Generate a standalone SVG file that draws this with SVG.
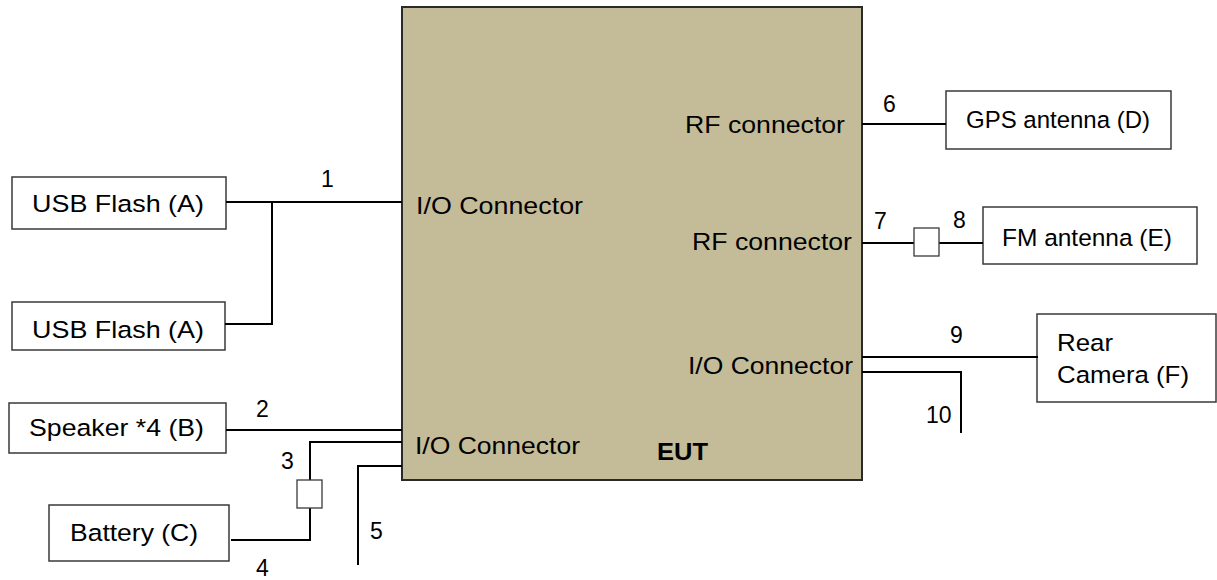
<svg xmlns="http://www.w3.org/2000/svg" width="1217" height="580" viewBox="0 0 1217 580">
<style>
.box{fill:#fff;stroke:#3a3a3a;stroke-width:1.5}
.eut{fill:#C4BC98;stroke:#2a2a2a;stroke-width:2}
.w{fill:none;stroke:#000;stroke-width:2}
.plug{fill:#fff;stroke:#3a3a3a;stroke-width:1.3}
text{font-family:"Liberation Sans",Arial,sans-serif;font-size:24.5px;fill:#000}
.n{font-size:23px}
.b{font-weight:bold}
</style>
<rect width="1217" height="580" fill="#fff"/>
<g id="eut">
<rect class="eut" x="402" y="7" width="460" height="473"/>
<text x="416" y="214" textLength="167" lengthAdjust="spacingAndGlyphs">I/O Connector</text>
<text x="685" y="133" textLength="160" lengthAdjust="spacingAndGlyphs">RF connector</text>
<text x="692" y="250" textLength="160" lengthAdjust="spacingAndGlyphs">RF connector</text>
<text x="688" y="374" textLength="165" lengthAdjust="spacingAndGlyphs">I/O Connector</text>
<text x="415" y="454" textLength="165" lengthAdjust="spacingAndGlyphs">I/O Connector</text>
<text class="b" x="657" y="460" textLength="51" lengthAdjust="spacingAndGlyphs">EUT</text>
</g>
<g id="usbA1">
<rect class="box" x="12" y="177" width="214" height="52"/>
<text x="32" y="212" textLength="172" lengthAdjust="spacingAndGlyphs">USB Flash (A)</text>
</g>
<g id="usbA2">
<rect class="box" x="12" y="302" width="213" height="48"/>
<text x="32" y="338" textLength="172" lengthAdjust="spacingAndGlyphs">USB Flash (A)</text>
</g>
<g id="speakerB">
<rect class="box" x="9" y="403" width="217" height="50"/>
<text x="29" y="436" textLength="175" lengthAdjust="spacingAndGlyphs">Speaker *4 (B)</text>
</g>
<g id="batteryC">
<rect class="box" x="49" y="505" width="180" height="56"/>
<text x="70" y="541" textLength="128" lengthAdjust="spacingAndGlyphs">Battery (C)</text>
</g>
<g id="gpsD">
<rect class="box" x="946" y="91" width="225" height="58"/>
<text x="966" y="128" textLength="184" lengthAdjust="spacingAndGlyphs">GPS antenna (D)</text>
</g>
<g id="fmE">
<rect class="box" x="983" y="207" width="214" height="57"/>
<text x="1002" y="246" textLength="170" lengthAdjust="spacingAndGlyphs">FM antenna (E)</text>
</g>
<g id="cameraF">
<rect class="box" x="1037" y="314" width="179" height="88"/>
<text x="1057" y="351" textLength="56" lengthAdjust="spacingAndGlyphs">Rear</text>
<text x="1057" y="383" textLength="132" lengthAdjust="spacingAndGlyphs">Camera (F)</text>
</g>
<g id="connectors">
<path class="w" d="M226 202H402M272 202V324H225"/>
<path class="w" d="M226 430H402"/>
<path class="w" d="M402 442H310V540H231"/>
<rect class="plug" x="297" y="480" width="25" height="28"/>
<path class="w" d="M402 466H358V565"/>
<path class="w" d="M862 124H946"/>
<path class="w" d="M862 243H914M939 243H983"/>
<rect class="plug" x="914" y="228" width="25" height="28"/>
<path class="w" d="M862 357H1038"/>
<path class="w" d="M862 372H961V433"/>
<text class="n" x="321" y="187">1</text>
<text class="n" x="256" y="417">2</text>
<text class="n" x="281" y="469">3</text>
<text class="n" x="256" y="576">4</text>
<text class="n" x="370" y="539">5</text>
<text class="n" x="883" y="112">6</text>
<text class="n" x="874" y="229">7</text>
<text class="n" x="953" y="228">8</text>
<text class="n" x="950" y="343">9</text>
<text class="n" x="926" y="423">10</text>
</g>
</svg>
